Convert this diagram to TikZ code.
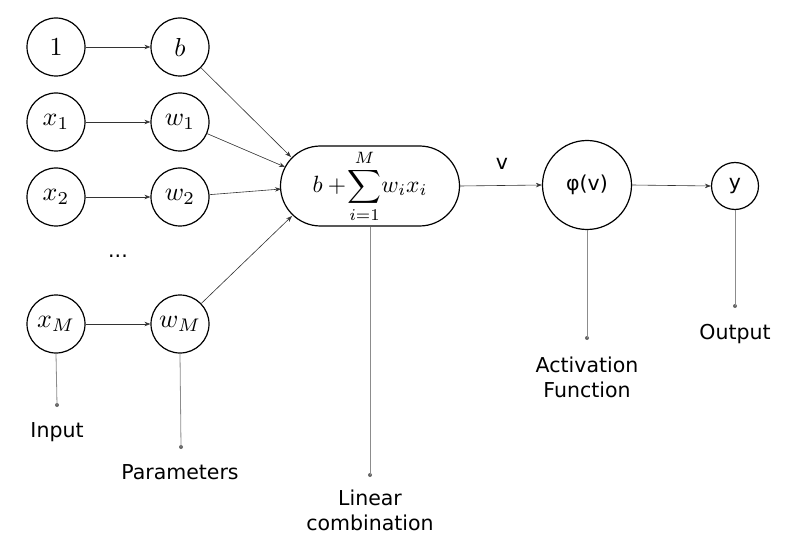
\documentclass[tikz,border=0pt]{standalone}
\usepackage{fontspec}
\setmainfont{DejaVu Sans}
\usetikzlibrary{shapes.misc,arrows.meta}
\newcommand{\nnmath}[1]{\scalebox{2.6}{$#1$}}
\begin{document}
\begin{tikzpicture}[x=1pt,y=-1pt,
  neuron/.style={circle,draw=black,line width=1.2pt,minimum size=58pt,inner sep=0pt},
  txtfont/.style={font=\fontsize{20.5}{25}\selectfont},
  conn/.style={draw=black!80,line width=0.6pt,-{Stealth[length=6pt,width=4.5pt]}},
  labline/.style={draw=black!45,line width=0.8pt},
  labdot/.style={circle,fill=black!60,inner sep=0pt,minimum size=4pt},
  lab/.style={txtfont,align=center,inner sep=0pt}]
\useasboundingbox (0,0) rectangle (789,545);
% inputs
\node[neuron] (one) at (56,47) {\nnmath{1}};
\node[neuron] (x1) at (56,122) {\nnmath{x_1}};
\node[neuron] (x2) at (56,197) {\nnmath{x_2}};
\node[neuron] (xM) at (56,324) {\nnmath{x_M}};
% parameters
\node[neuron] (b) at (180,47) {\nnmath{b}};
\node[neuron] (w1) at (180,122) {\nnmath{w_1}};
\node[neuron] (w2) at (180,197) {\nnmath{w_2}};
\node[neuron] (wM) at (180,324) {\nnmath{w_M}};
\node[lab] (dots) at (118,256) {...};
% sum
\node[rounded rectangle,draw=black,line width=1.2pt,minimum width=179pt,minimum height=80pt,inner sep=0pt] (sum) at (370,186) {\scalebox{2.35}{$\displaystyle b+\!\sum_{i=1}^{M}\! w_i x_i$}};
\node[neuron,txtfont,minimum size=89pt] (phi) at (587,185) {φ(v)};
\node[neuron,txtfont,minimum size=47pt] (y) at (735,186) {y};
% arrows
\draw[conn] (one) -- (b);
\draw[conn] (x1) -- (w1);
\draw[conn] (x2) -- (w2);
\draw[conn] (xM) -- (wM);
\coordinate (eb) at (291,157);
\coordinate (e1) at (285,167);
\coordinate (e2) at (281,189);
\coordinate (eM) at (292,216);
\draw[conn] (b) -- (eb);
\draw[conn] (w1) -- (e1);
\draw[conn] (w2) -- (e2);
\draw[conn] (wM) -- (eM);
\draw[conn] (sum.east) -- (phi.west);
\draw[conn] (phi.east) -- (y.west);
\node[lab] (vlab) at (502,164) {v};
% label lines
\node[labdot] (dIn) at (57,405) {};
\node[labdot] (dPar) at (181,447) {};
\node[labdot] (dLin) at (370,475) {};
\node[labdot] (dAct) at (587,338) {};
\node[labdot] (dOut) at (735,306) {};
\draw[labline] (xM.south) -- (dIn.center);
\draw[labline] (wM.south) -- (dPar.center);
\draw[labline] (sum.south) -- (dLin.center);
\draw[labline] (phi.south) -- (dAct.center);
\draw[labline] (y.south) -- (dOut.center);
\node[lab,anchor=base] (tIn) at (57,437) {Input};
\node[lab,anchor=base] (tPar) at (180,479) {Parameters};
\node[lab,anchor=north] (tLin) at (370,490) {Linear\\combination};
\node[lab,anchor=north] (tAct) at (587,357) {Activation\\Function};
\node[lab,anchor=base] (tOut) at (735,339) {Output};
\end{tikzpicture}
\end{document}
